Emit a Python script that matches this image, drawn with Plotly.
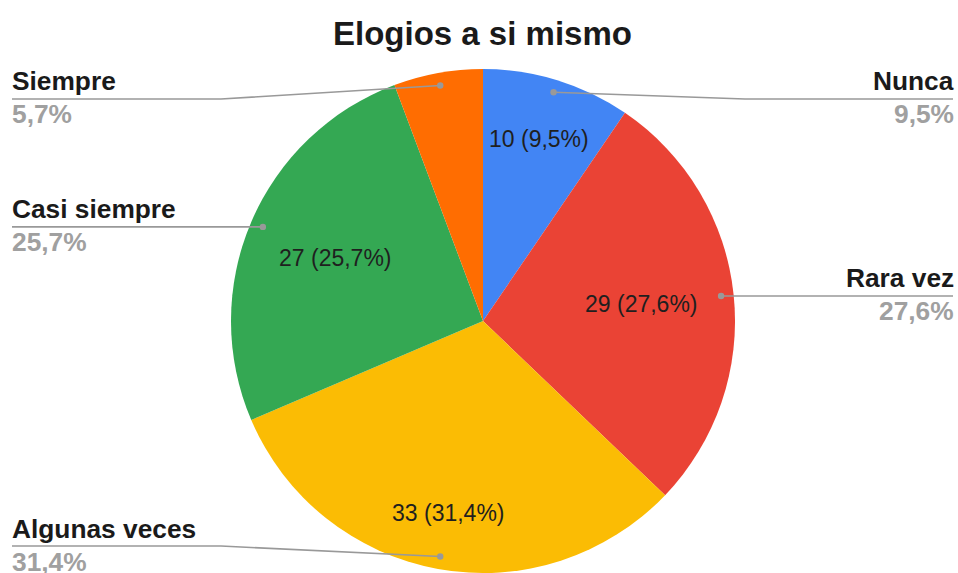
import math
import plotly.graph_objects as go

# ---- data ----
categories = ["Nunca", "Rara vez", "Algunas veces", "Casi siempre", "Siempre"]
values = [10, 29, 33, 27, 6]
colors = ["#4285F4", "#EA4335", "#FBBC04", "#34A853", "#FF6D01"]
title_text = "Elogios a si mismo"

W, H = 958, 573
total = sum(values)
FONT = "Liberation Sans, Arial, sans-serif"

# pie geometry (pixels)
CX = 483.0
dom_y = [0.0, 0.8796]
R = (dom_y[1] - dom_y[0]) * H / 2
CY = H - (dom_y[0] + dom_y[1]) / 2 * H
dom_x = [(2 * CX - W) / W, 1.0]

def px(x):
    return x / W

def py(y):
    return 1 - y / H

def pct_str(v):
    return f"{v / total * 100:.1f}".replace(".", ",") + "%"

# approximate Arial advance widths (em) for placing inside labels
ADV = {c: 0.556 for c in "0123456789"}
ADV.update({" ": 0.278, "(": 0.333, ")": 0.333, ",": 0.278, "%": 0.889})
IN_SIZE = 23

fig = go.Figure(go.Pie(
    labels=categories,
    values=values,
    sort=False,
    direction="clockwise",
    rotation=0,
    marker=dict(colors=colors, line=dict(width=0)),
    textinfo="none",
    domain=dict(x=dom_x, y=dom_y),
    showlegend=False,
    hoverinfo="label+value+percent",
))

shapes = []
annotations = []
top_lim, bot_lim = 99, 546
cum = 0
for cat, v in zip(categories, values):
    mid = (cum + v / 2) / total * 2 * math.pi
    cum += v
    dx_, dy_ = math.sin(mid), -math.cos(mid)

    # inside label (only for slices large enough)
    if v / total > 0.07:
        txt = f"{v} ({pct_str(v)})"
        tw = sum(ADV.get(c, 0.556) for c in txt) * IN_SIZE
        th = IN_SIZE * 1.05
        ext = abs(dx_) * tw / 2 + abs(dy_) * th / 2
        r_lab = 0.86 * R - ext
        annotations.append(dict(x=px(CX + r_lab * dx_), y=py(CY + r_lab * dy_), xref="paper", yref="paper",
                                text=txt, showarrow=False, xanchor="center", yanchor="middle",
                                font=dict(family=FONT, size=IN_SIZE, color="#1f1f1f")))

    # callout
    dot_x = CX + 0.95 * R * dx_
    dot_y = CY + 0.95 * R * dy_
    line_y = min(max(dot_y, top_lim), bot_lim)
    right = dx_ > 0
    elbow_x = CX + (R + 10) * (1 if right else -1)
    end_x = 953 if right else 12
    text_x = 955.5 if right else 9.5
    shapes.append(dict(type="path", xref="paper", yref="paper",
                       path=f"M {px(dot_x)},{py(dot_y)} L {px(elbow_x)},{py(line_y)} L {px(end_x)},{py(line_y)}",
                       line=dict(color="#999999", width=1.6)))
    shapes.append(dict(type="circle", xref="paper", yref="paper",
                       x0=px(dot_x - 3.2), x1=px(dot_x + 3.2), y0=py(dot_y - 3.2), y1=py(dot_y + 3.2),
                       fillcolor="#999999", line=dict(width=0)))
    anchor = "right" if right else "left"
    annotations.append(dict(x=px(text_x), y=py(line_y - 17.5), xref="paper", yref="paper",
                            text=f"<b>{cat}</b>", showarrow=False, xanchor=anchor, yanchor="middle",
                            font=dict(family=FONT, size=26.3, color="#1a1a1a")))
    annotations.append(dict(x=px(text_x), y=py(line_y + 15.5), xref="paper", yref="paper",
                            text=f"<b>{pct_str(v)}</b>", showarrow=False, xanchor=anchor, yanchor="middle",
                            font=dict(family=FONT, size=26.3, color="#a0a0a0")))

annotations.append(dict(x=px(CX), y=py(33), xref="paper", yref="paper",
                        text=f"<b>{title_text}</b>", showarrow=False, xanchor="center", yanchor="middle",
                        font=dict(family=FONT, size=33, color="#1a1a1a")))

fig.update_layout(
    width=W, height=H,
    margin=dict(l=0, r=0, t=0, b=0),
    paper_bgcolor="white",
    plot_bgcolor="white",
    separators=",.",
    shapes=shapes,
    annotations=annotations,
)

fig.write_html("out.html", config={"displayModeBar": False},
               post_script="document.body.style.margin='0px';document.body.style.overflow='hidden';")
